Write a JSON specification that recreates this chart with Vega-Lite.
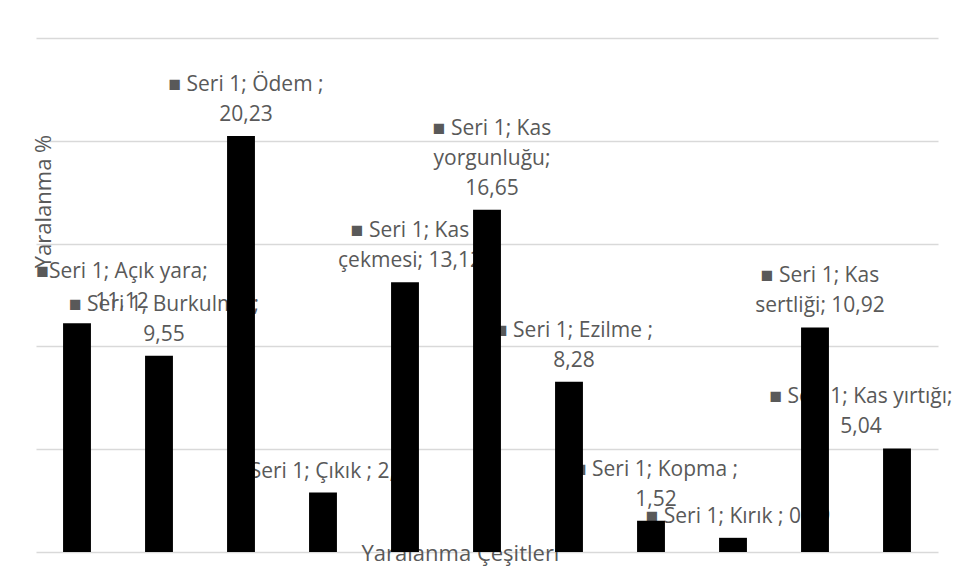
{
  "$schema": "https://vega.github.io/schema/vega-lite/v6.json",
  "width": 902,
  "height": 514,
  "autosize": {"type": "none"},
  "padding": {"left": 36, "top": 38, "right": 22, "bottom": 29},
  "background": "white",
  "config": {
    "view": {"stroke": null},
    "font": "Open Sans",
    "text": {"font": "Open Sans"}
  },
  "data": {
    "values": [
      {"cat": "Açık yara", "value": 11.12, "label": ["■Seri 1; Açık yara;", "11,12"]},
      {"cat": "Burkulma", "value": 9.55, "label": ["■  Seri 1; Burkulma ;", "9,55"]},
      {"cat": "Ödem", "value": 20.23, "label": ["■  Seri 1; Ödem ;", "20,23"]},
      {"cat": "Çıkık", "value": 2.89, "label": ["■Seri 1; Çıkık ; 2,89"]},
      {"cat": "Kas çekmesi", "value": 13.12, "label": ["■     Seri 1; Kas", "çekmesi; 13,12"]},
      {"cat": "Kas yorgunluğu", "value": 16.65, "label": ["■   Seri 1; Kas", "yorgunluğu;", "16,65"]},
      {"cat": "Ezilme", "value": 8.28, "label": ["■  Seri 1; Ezilme ;", "8,28"]},
      {"cat": "Kopma", "value": 1.52, "label": ["■  Seri 1; Kopma ;", "1,52"]},
      {"cat": "Kırık", "value": 0.69, "label": ["■ Seri 1; Kırık ; 0,69"]},
      {"cat": "Kas sertliği", "value": 10.92, "label": ["■    Seri 1; Kas", "sertliği; 10,92"]},
      {"cat": "Kas yırtığı", "value": 5.04, "label": ["■ Seri 1; Kas yırtığı;", "5,04"]}
    ]
  },
  "encoding": {
    "x": {
      "field": "cat",
      "type": "nominal",
      "sort": null,
      "scale": {"paddingInner": 0.66, "paddingOuter": 0.33},
      "axis": {
        "title": "Yaralanma Çeşitleri",
        "labels": false,
        "ticks": false,
        "domain": false,
        "titleFont": "Open Sans",
        "titleFontSize": 22,
        "titleFontWeight": "normal",
        "titleColor": "#595959",
        "titleX": 424,
        "titleY": 1,
        "titleBaseline": "middle"
      }
    },
    "y": {
      "field": "value",
      "type": "quantitative",
      "scale": {"domain": [0, 25]},
      "axis": {
        "title": "Yaralanma %",
        "values": [0, 5, 10, 15, 20, 25],
        "labels": false,
        "ticks": false,
        "domain": false,
        "grid": true,
        "gridColor": "#d9d9d9",
        "gridWidth": 1.3,
        "titleFont": "Open Sans",
        "titleFontSize": 22,
        "titleFontWeight": "normal",
        "titleColor": "#595959",
        "titleX": 7,
        "titleY": 163,
        "titleBaseline": "middle",
        "titleAngle": -90
      }
    }
  },
  "layer": [
    {
      "mark": {
        "type": "text",
        "color": "#595959",
        "fontSize": 21,
        "lineHeight": 30,
        "baseline": "alphabetic",
        "align": "center",
        "dx": {"expr": "scale('x', datum.cat) < 40 ? 45 : scale('x', datum.cat) > 800 ? -36 : 5"},
        "dy": {"expr": "-15 - 30 * (length(datum.label) - 1)"}
      },
      "encoding": {"text": {"field": "label"}}
    },
    {"mark": {"type": "bar", "color": "black"}}
  ]
}
